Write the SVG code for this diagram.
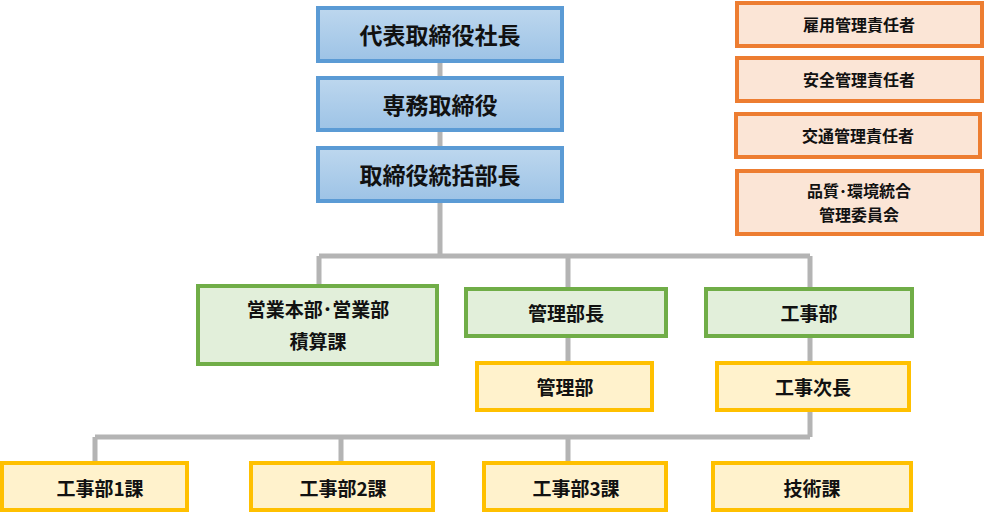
<svg xmlns="http://www.w3.org/2000/svg" width="984" height="513" viewBox="0 0 984 513">
<style>
text{font-family:"Noto Sans CJK JP","Noto Sans",sans-serif;font-weight:bold;fill:#111;text-anchor:middle;dominant-baseline:central}
.b rect{fill:url(#gb);stroke:#5b9bd5;stroke-width:4}
.b text{font-size:23px}
.g rect{fill:#e2efda;stroke:#70ad47;stroke-width:4}
.y rect{fill:#fff2cc;stroke:#ffc000;stroke-width:4}
.g text,.y text{font-size:19px}
.o rect{fill:#fbe5d6;stroke:#ed7d31;stroke-width:4}
.o text{font-size:16px}
#conn path{stroke:#b4b4b4;stroke-width:5;fill:none}
</style>
<defs><linearGradient id="gb" x1="0" y1="0" x2="0" y2="1"><stop offset="0" stop-color="#bdd7ee"/><stop offset="1" stop-color="#9dc3e6"/></linearGradient></defs>
<g id="conn">
<path d="M440 61V78M440 130V148M440 201V256M319 256H810M319 256V286M568 256V289M810 256V289M568 336V362M810 336V362M810 410V437M95 437H810M95 437V462M341 437V462M568 437V462"/>
</g>
<g id="n1" class="b"><rect x="318" y="8" width="244" height="53"/><text x="440" y="34">代表取締役社長</text></g>
<g id="n2" class="b"><rect x="318" y="78" width="244" height="52"/><text x="440" y="104">専務取締役</text></g>
<g id="n3" class="b"><rect x="318" y="148" width="244" height="53"/><text x="440" y="174">取締役統括部長</text></g>
<g id="n4" class="g"><rect x="198" y="286" width="239" height="78"/><text x="318" y="308">営業本部･営業部</text><text x="318" y="340">積算課</text></g>
<g id="n5" class="g"><rect x="466" y="289" width="200" height="47"/><text x="566" y="312">管理部長</text></g>
<g id="n6" class="g"><rect x="706" y="289" width="206" height="47"/><text x="809" y="312">工事部</text></g>
<g id="n7" class="y"><rect x="477" y="363" width="175" height="47"/><text x="565" y="386">管理部</text></g>
<g id="n8" class="y"><rect x="717" y="363" width="192" height="47"/><text x="813" y="386">工事次長</text></g>
<g id="n9" class="y"><rect x="2" y="463" width="185" height="47"/><text x="100" y="487">工事部1課</text></g>
<g id="n10" class="y"><rect x="251" y="463" width="182" height="47"/><text x="343" y="487">工事部2課</text></g>
<g id="n11" class="y"><rect x="484" y="463" width="182" height="47"/><text x="576" y="487">工事部3課</text></g>
<g id="n12" class="y"><rect x="713" y="463" width="198" height="47"/><text x="812" y="487">技術課</text></g>
<g id="n13" class="o"><rect x="737" y="3" width="245" height="43"/><text x="859" y="24">雇用管理責任者</text></g>
<g id="n14" class="o"><rect x="737" y="58" width="245" height="43"/><text x="859" y="79">安全管理責任者</text></g>
<g id="n15" class="o"><rect x="736" y="114" width="244" height="43"/><text x="858" y="135">交通管理責任者</text></g>
<g id="n16" class="o"><rect x="737" y="171" width="245" height="63"/><text x="859" y="190">品質･環境統合</text><text x="859" y="214">管理委員会</text></g>
</svg>
